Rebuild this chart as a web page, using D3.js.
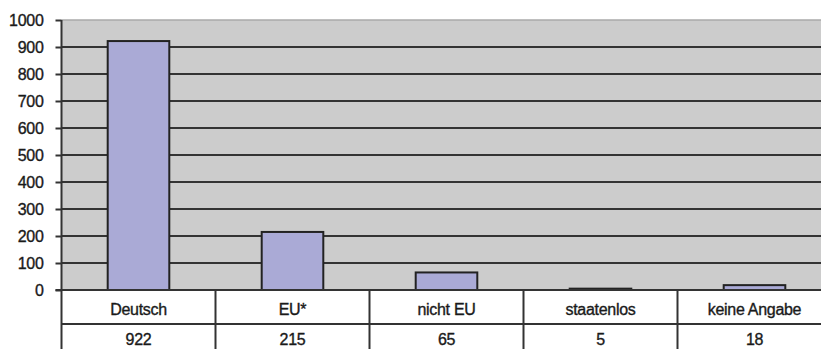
<!DOCTYPE html>
<html>
<head>
<meta charset="utf-8">
<script src="https://cdn.jsdelivr.net/npm/d3@7"></script>
<style>
  html, body { margin: 0; padding: 0; background: #fff; }
  svg { display: block; }
  text { font-family: "Liberation Sans", Arial, sans-serif; fill: #1a1a1a; stroke: #1a1a1a; stroke-width: 0.35px; }
</style>
</head>
<body>
<svg id="chart" width="821" height="349"></svg>
<script>
const categories = ["Deutsch", "EU*", "nicht EU", "staatenlos", "keine Angabe"];
const values = [922, 215, 65, 5, 18];
const yTicks = [0, 100, 200, 300, 400, 500, 600, 700, 800, 900, 1000];

(function () {
const svg = d3.select("#chart");
const mLeft = 61.5, mTop = 20, mBottom = 290, colW = 154;
const row1 = 324;

const x = d3.scaleBand().domain(categories).range([mLeft, mLeft + colW * categories.length]).padding(0);
const y = d3.scaleLinear().domain([0, 1000]).range([mBottom, mTop]);

// plot background
svg.append("rect").attr("x", mLeft).attr("y", y(1000)).attr("width", 821 - mLeft).attr("height", mBottom - y(1000)).attr("fill", "#cccccc");
svg.append("line").attr("x1", mLeft).attr("x2", 821).attr("y1", y(1000)).attr("y2", y(1000)).attr("stroke", "#aaaaaa").attr("stroke-width", 1.5);

// gridlines
svg.append("g").selectAll("line").data(yTicks.filter(d => d > 0 && d < 1000)).join("line")
  .attr("x1", mLeft).attr("x2", 821).attr("y1", d => y(d)).attr("y2", d => y(d))
  .attr("stroke", "#333").attr("stroke-width", 2);

// bars
const barW = x.bandwidth() * 0.4;
svg.append("g").selectAll("rect").data(values).join("rect")
  .attr("x", (d, i) => x(categories[i]) + (x.bandwidth() - barW) / 2)
  .attr("y", d => y(d))
  .attr("width", barW)
  .attr("height", d => mBottom - y(d))
  .attr("fill", "#aaaad6").attr("stroke", "#222").attr("stroke-width", 2);

// y axis
const yAxis = d3.axisLeft(y).tickValues(yTicks).tickSize(6).tickPadding(12).tickFormat(d3.format("d"));
const ga = svg.append("g").attr("transform", `translate(${mLeft},0)`).call(yAxis);
ga.select(".domain").remove();
ga.selectAll(".tick line").attr("stroke", "#333").attr("stroke-width", 2);
ga.selectAll(".tick text").attr("font-size", 16).attr("letter-spacing", "-0.3").attr("fill", "#1a1a1a")
  .attr("font-family", "Liberation Sans, Arial, sans-serif");

// table
svg.append("line").attr("x1", mLeft - 6).attr("x2", 821).attr("y1", mBottom).attr("y2", mBottom).attr("stroke", "#333").attr("stroke-width", 2);
svg.append("line").attr("x1", mLeft).attr("x2", 821).attr("y1", row1).attr("y2", row1).attr("stroke", "#333").attr("stroke-width", 2);
svg.append("line").attr("x1", mLeft).attr("x2", mLeft).attr("y1", y(1000)).attr("y2", 349).attr("stroke", "#333").attr("stroke-width", 2);
svg.append("g").selectAll("line").data(categories.slice(1)).join("line")
  .attr("x1", d => x(d)).attr("x2", d => x(d)).attr("y1", mBottom).attr("y2", 349)
  .attr("stroke", "#333").attr("stroke-width", 2);

svg.append("g").selectAll("text").data(categories).join("text")
  .attr("x", d => x(d) + x.bandwidth() / 2).attr("y", 315)
  .attr("text-anchor", "middle").attr("font-size", 16).attr("letter-spacing", "-0.3")
  .text(d => d);
svg.append("g").selectAll("text").data(values).join("text")
  .attr("x", (d, i) => x(categories[i]) + x.bandwidth() / 2).attr("y", 345)
  .attr("text-anchor", "middle").attr("font-size", 16).attr("letter-spacing", "-0.3")
  .text(d => d);
})();
</script>
</body>
</html>
